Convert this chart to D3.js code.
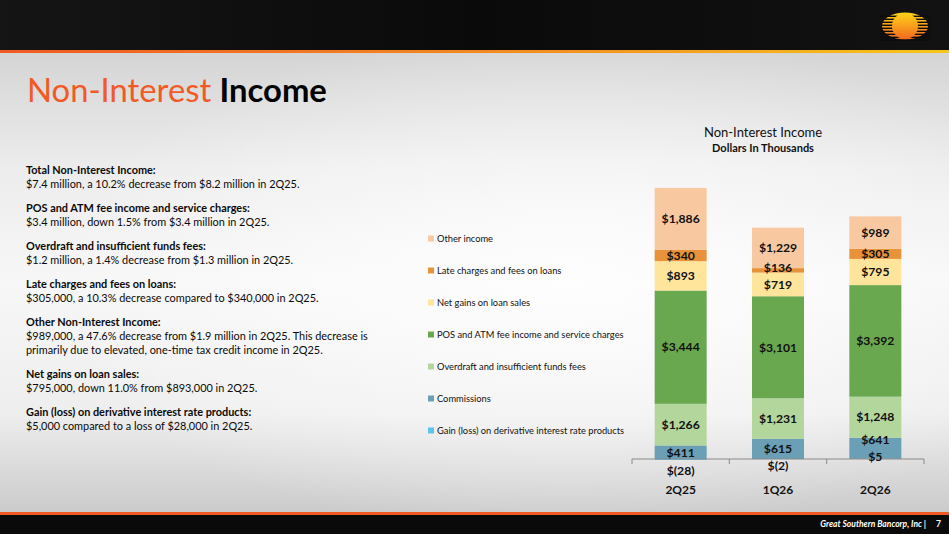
<!DOCTYPE html>
<html><head><meta charset="utf-8">
<script src="https://cdn.jsdelivr.net/npm/d3@7"></script>
<style>
html,body{margin:0;padding:0;overflow:hidden;background:#fff}
svg{display:block}
</style></head>
<body>
<svg id="c" width="949" height="534"></svg>
<script>
// ---- data ----
const categories = ["2Q25", "1Q26", "2Q26"];
const seriesNames = [
  "Gain (loss) on derivative interest rate products",
  "Commissions",
  "Overdraft and insufficient funds fees",
  "POS and ATM fee income and service charges",
  "Net gains on loan sales",
  "Late charges and fees on loans",
  "Other income"
];
const gainLoss    = [-28, -2, 5];
const commissions = [411, 615, 641];
const overdraft   = [1266, 1231, 1248];
const posAtm      = [3444, 3101, 3392];
const netGains    = [893, 719, 795];
const lateCharges = [340, 136, 305];
const otherIncome = [1886, 1229, 989];
const seriesColors = ["#5cc3ea", "#6a9fb5", "#b3d69c", "#6aa84f", "#ffe49c", "#e8923a", "#f8c9a0"];

const bullets = [
  ["Total Non-Interest Income:", ["$7.4 million, a 10.2% decrease from $8.2 million in 2Q25."]],
  ["POS and ATM fee income and service charges:", ["$3.4 million, down 1.5% from $3.4 million in 2Q25."]],
  ["Overdraft and insufficient funds fees:", ["$1.2 million, a 1.4% decrease from $1.3 million in 2Q25."]],
  ["Late charges and fees on loans:", ["$305,000, a 10.3% decrease compared to $340,000 in 2Q25."]],
  ["Other Non-Interest Income:", ["$989,000, a 47.6% decrease from $1.9 million in 2Q25. This decrease is", "primarily due to elevated, one-time tax credit income in 2Q25."]],
  ["Net gains on loan sales:", ["$795,000, down 11.0% from $893,000 in 2Q25."]],
  ["Gain (loss) on derivative interest rate products:", ["$5,000 compared to a loss of $28,000 in 2Q25."]]
];

const seriesValues = [gainLoss, commissions, overdraft, posAtm, netGains, lateCharges, otherIncome];
const table = categories.map((c, i) => {
  const row = {cat: c};
  seriesNames.forEach((s, k) => row[s] = seriesValues[k][i]);
  return row;
});

const svg = d3.select("#c");
const FN = "Lato,'Open Sans',sans-serif";
const defs = svg.append("defs");

// ---- background ----
const bg = defs.append("linearGradient").attr("id","bg").attr("x1",0).attr("y1",0).attr("x2",0).attr("y2",1);
bg.append("stop").attr("offset","0%").attr("stop-color","#d4d4d4");
bg.append("stop").attr("offset","25%").attr("stop-color","#ececec");
bg.append("stop").attr("offset","50%").attr("stop-color","#f7f7f7");
bg.append("stop").attr("offset","78%").attr("stop-color","#eeeeee");
bg.append("stop").attr("offset","100%").attr("stop-color","#cacaca");
svg.append("rect").attr("x",0).attr("y",50).attr("width",949).attr("height",465).attr("fill","url(#bg)");
const rg = defs.append("radialGradient").attr("id","hl").attr("cx","0.6").attr("cy","0.5").attr("r","0.55");
rg.append("stop").attr("offset","0%").attr("stop-color","#ffffff").attr("stop-opacity",0.85);
rg.append("stop").attr("offset","100%").attr("stop-color","#ffffff").attr("stop-opacity",0);
svg.append("rect").attr("x",0).attr("y",50).attr("width",949).attr("height",465).attr("fill","url(#hl)");

// top band
const tb = defs.append("linearGradient").attr("id","tb").attr("x1",0).attr("y1",0).attr("x2",1).attr("y2",0);
tb.append("stop").attr("offset","0%").attr("stop-color","#151515");
tb.append("stop").attr("offset","50%").attr("stop-color","#0a0a0a");
tb.append("stop").attr("offset","100%").attr("stop-color","#121212");
svg.append("rect").attr("x",0).attr("y",0).attr("width",949).attr("height",51).attr("fill","url(#tb)");
const ol = defs.append("linearGradient").attr("id","ol").attr("x1",0).attr("y1",0).attr("x2",1).attr("y2",0);
ol.append("stop").attr("offset","0%").attr("stop-color","#f05a22");
ol.append("stop").attr("offset","60%").attr("stop-color","#f39220");
ol.append("stop").attr("offset","100%").attr("stop-color","#f6c51a");
svg.append("rect").attr("x",0).attr("y",50).attr("width",949).attr("height",3).attr("fill","url(#ol)");

// logo
const lg = defs.append("linearGradient").attr("id","lg").attr("x1",0).attr("y1",0).attr("x2",0).attr("y2",1);
lg.append("stop").attr("offset","0%").attr("stop-color","#ffd21a");
lg.append("stop").attr("offset","100%").attr("stop-color","#f26a1f");
const logo = svg.append("g");
logo.append("ellipse").attr("cx",905).attr("cy",26).attr("rx",23).attr("ry",13.5).attr("fill","url(#lg)");
for (let k = 0; k < 9; k++) {
  logo.append("rect").attr("x",880).attr("y",14 + k*3 + 1.6).attr("width",50).attr("height",1.4).attr("fill","#0c0c0c");
}
logo.append("circle").attr("cx",905).attr("cy",26).attr("r",13).attr("fill","url(#lg)");

// bottom band
svg.append("rect").attr("x",0).attr("y",512).attr("width",949).attr("height",3).attr("fill","#f05a22");
svg.append("rect").attr("x",0).attr("y",515).attr("width",949).attr("height",19).attr("fill","#0a0a0a");
svg.append("text").attr("x",926).attr("y",527).attr("text-anchor","end")
  .attr("font-family",FN).attr("font-size",8.5).attr("font-style","italic").attr("font-weight","bold")
  .attr("fill","#ffffff").text("Great Southern Bancorp, Inc  |");
svg.append("text").attr("x",941).attr("y",527).attr("text-anchor","end")
  .attr("font-family",FN).attr("font-size",8.5).attr("font-weight","bold")
  .attr("fill","#ffffff").text("7");

// title
const title = svg.append("text").attr("x",27).attr("y",102).attr("font-family",FN).attr("font-size",32.8);
title.append("tspan").attr("fill","#f15a24").text("Non-Interest ");
title.append("tspan").attr("fill","#000").attr("font-weight","bold").text("Income");

// bullets
const bt = svg.append("g").attr("font-family",FN).attr("font-size",10.9).attr("fill","#0a0a0a");
let yy = 174;
bullets.forEach(([h, lines]) => {
  bt.append("text").attr("x",26).attr("y",yy).attr("font-weight","bold").text(h);
  lines.forEach((l, j) => bt.append("text").attr("x",26).attr("y",yy + 14*(j+1)).text(l));
  yy += 14*(lines.length + 1) + 10;
});

// ---- chart ----
const x = d3.scaleBand().domain(categories).range([632, 924]).paddingInner(0).paddingOuter(0);
const barW = 52;
const y = d3.scaleLinear().domain([0, 9000]).range([459, 162.9]);

const stack = d3.stack().keys(seriesNames).offset(d3.stackOffsetDiverging);
const stacked = stack(table);

const gBars = svg.append("g");
stacked.forEach((s, k) => {
  gBars.selectAll(null).data(s).join("rect")
    .attr("x", d => x(d.data.cat) + (x.bandwidth() - barW)/2)
    .attr("width", barW)
    .attr("y", d => y(Math.max(d[0], d[1])))
    .attr("height", d => Math.abs(y(d[0]) - y(d[1])))
    .attr("fill", seriesColors[k]);
});

// axis
const axisG = svg.append("g").attr("transform", `translate(0,${y(0)})`);
axisG.append("line").attr("x1",632).attr("x2",924).attr("y1",0).attr("y2",0).attr("stroke","#8a8a8a").attr("stroke-width",1);
const ticks = categories.map(c => x(c)).concat([x.range()[1]]);
axisG.selectAll(null).data(ticks).join("line")
  .attr("x1", d => d).attr("x2", d => d).attr("y1",0).attr("y2",5).attr("stroke","#8a8a8a");
svg.append("g").selectAll(null).data(categories).join("text")
  .attr("x", d => x(d) + x.bandwidth()/2).attr("y", 494).attr("text-anchor","middle")
  .attr("font-family",FN).attr("font-size",12).attr("font-weight","bold").attr("fill","#111").text(d => d);

// labels
const fmt = v => v < 0 ? "$(" + d3.format(",")(-v) + ")" : "$" + d3.format(",")(v);
const gLab = svg.append("g").attr("font-family",FN).attr("font-size",12.2).attr("font-weight","bold")
  .attr("fill","#111").attr("text-anchor","middle");
categories.forEach((c, i) => {
  let prevY = null;
  stacked.forEach((s, k) => {
    const d = s[i];
    const v = d.data[seriesNames[k]];
    let cy;
    if (v < 0) cy = y(0) + (i === 0 ? 12 : 7);
    else if (v < 50) cy = y(0) - 2;
    else cy = (y(d[0]) + y(d[1]))/2;
    if (prevY !== null && prevY - cy < 16 && v > 0) cy = prevY - 17;
    if (v > 0) prevY = cy;
    gLab.append("text").attr("x", x(c) + x.bandwidth()/2).attr("y", cy).attr("dy","0.35em").text(fmt(v));
  });
});

// chart title
svg.append("text").attr("x",763).attr("y",137).attr("text-anchor","middle")
  .attr("font-family",FN).attr("font-size",13).attr("fill","#111").text("Non-Interest Income");
svg.append("text").attr("x",763).attr("y",152).attr("text-anchor","middle")
  .attr("font-family",FN).attr("font-size",11).attr("font-weight","bold").attr("fill","#111").text("Dollars In Thousands");

// legend
const legendOrder = seriesNames.map((s, k) => ({name: s, color: seriesColors[k]})).reverse();
const leg = svg.append("g").attr("font-family",FN).attr("font-size",9.3).attr("fill","#111");
legendOrder.forEach((it, j) => {
  const ly = 239 + j*32;
  leg.append("rect").attr("x",428).attr("y",ly-3.5).attr("width",6).attr("height",6).attr("fill",it.color);
  leg.append("text").attr("x",437).attr("y",ly).attr("dy","0.35em").text(it.name);
});
</script>
</body></html>
